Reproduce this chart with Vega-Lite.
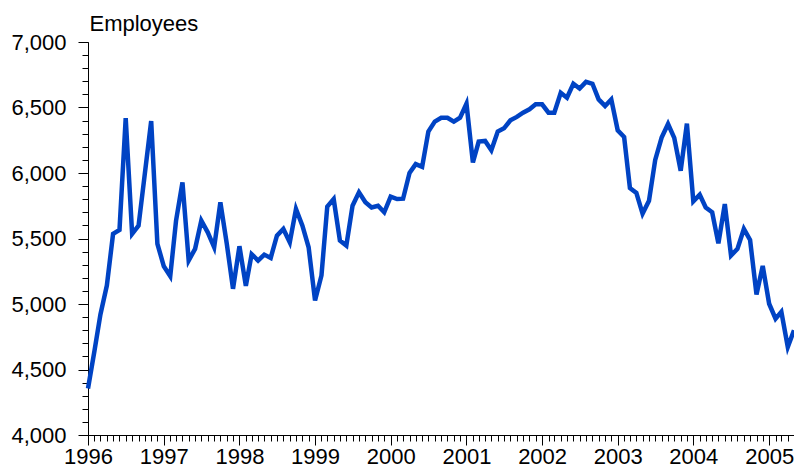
{
  "$schema": "https://vega.github.io/schema/vega-lite/v6.json",
  "width": 706,
  "height": 393,
  "autosize": {"type": "none"},
  "padding": {"left": 88, "top": 42, "right": 0, "bottom": 39},
  "background": "white",
  "config": {
    "view": {"stroke": null},
    "font": "Liberation Sans",
    "axis": {
      "domainColor": "#000000",
      "tickColor": "#000000",
      "labelColor": "#000000",
      "titleColor": "#000000",
      "grid": false,
      "domainWidth": 1,
      "tickWidth": 1
    }
  },
  "data": {
    "values": [
      {"date": "1996-01-01", "employees": 4355},
      {"date": "1996-02-01", "employees": 4640},
      {"date": "1996-03-01", "employees": 4920},
      {"date": "1996-04-01", "employees": 5141},
      {"date": "1996-05-01", "employees": 5535},
      {"date": "1996-06-01", "employees": 5565},
      {"date": "1996-07-01", "employees": 6418},
      {"date": "1996-08-01", "employees": 5535},
      {"date": "1996-09-01", "employees": 5598},
      {"date": "1996-10-01", "employees": 5990},
      {"date": "1996-11-01", "employees": 6397},
      {"date": "1996-12-01", "employees": 5459},
      {"date": "1997-01-01", "employees": 5288},
      {"date": "1997-02-01", "employees": 5212},
      {"date": "1997-03-01", "employees": 5636},
      {"date": "1997-04-01", "employees": 5928},
      {"date": "1997-05-01", "employees": 5332},
      {"date": "1997-06-01", "employees": 5421},
      {"date": "1997-07-01", "employees": 5636},
      {"date": "1997-08-01", "employees": 5547},
      {"date": "1997-09-01", "employees": 5433},
      {"date": "1997-10-01", "employees": 5776},
      {"date": "1997-11-01", "employees": 5459},
      {"date": "1997-12-01", "employees": 5116},
      {"date": "1998-01-01", "employees": 5441},
      {"date": "1998-02-01", "employees": 5138},
      {"date": "1998-03-01", "employees": 5380},
      {"date": "1998-04-01", "employees": 5332},
      {"date": "1998-05-01", "employees": 5377},
      {"date": "1998-06-01", "employees": 5352},
      {"date": "1998-07-01", "employees": 5522},
      {"date": "1998-08-01", "employees": 5573},
      {"date": "1998-09-01", "employees": 5471},
      {"date": "1998-10-01", "employees": 5725},
      {"date": "1998-11-01", "employees": 5598},
      {"date": "1998-12-01", "employees": 5433},
      {"date": "1999-01-01", "employees": 5027},
      {"date": "1999-02-01", "employees": 5218},
      {"date": "1999-03-01", "employees": 5743},
      {"date": "1999-04-01", "employees": 5801},
      {"date": "1999-05-01", "employees": 5484},
      {"date": "1999-06-01", "employees": 5446},
      {"date": "1999-07-01", "employees": 5750},
      {"date": "1999-08-01", "employees": 5852},
      {"date": "1999-09-01", "employees": 5776},
      {"date": "1999-10-01", "employees": 5737},
      {"date": "1999-11-01", "employees": 5750},
      {"date": "1999-12-01", "employees": 5700},
      {"date": "2000-01-01", "employees": 5819},
      {"date": "2000-02-01", "employees": 5801},
      {"date": "2000-03-01", "employees": 5804},
      {"date": "2000-04-01", "employees": 6000},
      {"date": "2000-05-01", "employees": 6068},
      {"date": "2000-06-01", "employees": 6047},
      {"date": "2000-07-01", "employees": 6316},
      {"date": "2000-08-01", "employees": 6392},
      {"date": "2000-09-01", "employees": 6422},
      {"date": "2000-10-01", "employees": 6422},
      {"date": "2000-11-01", "employees": 6392},
      {"date": "2000-12-01", "employees": 6422},
      {"date": "2001-01-01", "employees": 6529},
      {"date": "2001-02-01", "employees": 6080},
      {"date": "2001-03-01", "employees": 6240},
      {"date": "2001-04-01", "employees": 6245},
      {"date": "2001-05-01", "employees": 6174},
      {"date": "2001-06-01", "employees": 6316},
      {"date": "2001-07-01", "employees": 6341},
      {"date": "2001-08-01", "employees": 6402},
      {"date": "2001-09-01", "employees": 6428},
      {"date": "2001-10-01", "employees": 6460},
      {"date": "2001-11-01", "employees": 6486},
      {"date": "2001-12-01", "employees": 6524},
      {"date": "2002-01-01", "employees": 6524},
      {"date": "2002-02-01", "employees": 6460},
      {"date": "2002-03-01", "employees": 6460},
      {"date": "2002-04-01", "employees": 6612},
      {"date": "2002-05-01", "employees": 6574},
      {"date": "2002-06-01", "employees": 6681},
      {"date": "2002-07-01", "employees": 6645},
      {"date": "2002-08-01", "employees": 6696},
      {"date": "2002-09-01", "employees": 6681},
      {"date": "2002-10-01", "employees": 6562},
      {"date": "2002-11-01", "employees": 6512},
      {"date": "2002-12-01", "employees": 6562},
      {"date": "2003-01-01", "employees": 6326},
      {"date": "2003-02-01", "employees": 6275},
      {"date": "2003-03-01", "employees": 5885},
      {"date": "2003-04-01", "employees": 5848},
      {"date": "2003-05-01", "employees": 5690},
      {"date": "2003-06-01", "employees": 5788},
      {"date": "2003-07-01", "employees": 6100},
      {"date": "2003-08-01", "employees": 6270},
      {"date": "2003-09-01", "employees": 6374},
      {"date": "2003-10-01", "employees": 6268},
      {"date": "2003-11-01", "employees": 6017},
      {"date": "2003-12-01", "employees": 6377},
      {"date": "2004-01-01", "employees": 5783},
      {"date": "2004-02-01", "employees": 5834},
      {"date": "2004-03-01", "employees": 5737},
      {"date": "2004-04-01", "employees": 5700},
      {"date": "2004-05-01", "employees": 5463},
      {"date": "2004-06-01", "employees": 5763},
      {"date": "2004-07-01", "employees": 5370},
      {"date": "2004-08-01", "employees": 5421},
      {"date": "2004-09-01", "employees": 5573},
      {"date": "2004-10-01", "employees": 5489},
      {"date": "2004-11-01", "employees": 5073},
      {"date": "2004-12-01", "employees": 5291},
      {"date": "2005-01-01", "employees": 5002},
      {"date": "2005-02-01", "employees": 4888},
      {"date": "2005-03-01", "employees": 4940},
      {"date": "2005-04-01", "employees": 4672},
      {"date": "2005-05-01", "employees": 4800}
    ]
  },
  "layer": [
    {
      "mark": {"type": "line", "opacity": 0},
      "encoding": {
        "x": {
          "field": "date",
          "type": "temporal",
          "scale": {
            "type": "utc",
            "domain": [
              {"year": 1996, "month": 1, "date": 1, "utc": true},
              {"year": 2005, "month": 5, "date": 1, "utc": true}
            ],
            "nice": false
          },
          "axis": {
            "orient": "bottom",
            "tickCount": {"interval": "month", "step": 1},
            "labels": false,
            "domain": false,
            "tickSize": 6,
            "title": null
          }
        },
        "y": {
          "field": "employees",
          "type": "quantitative",
          "scale": {"domain": [4000, 7000], "nice": false, "zero": false},
          "axis": {
            "orient": "left",
            "values": [4000, 4100, 4200, 4300, 4400, 4500, 4600, 4700, 4800, 4900, 5000, 5100, 5200, 5300, 5400, 5500, 5600, 5700, 5800, 5900, 6000, 6100, 6200, 6300, 6400, 6500, 6600, 6700, 6800, 6900, 7000],
            "labels": false,
            "domain": false,
            "tickSize": 6,
            "title": null
          }
        }
      }
    },
    {
      "mark": {"type": "line", "color": "#0043c4", "strokeWidth": 4.5},
      "encoding": {
        "x": {
          "field": "date",
          "type": "temporal",
          "axis": {
            "orient": "bottom",
            "tickCount": {"interval": "year", "step": 1},
            "format": "%Y",
            "labelFontSize": 22,
            "labelPadding": 1,
            "labelFlush": false,
            "labelOverlap": false,
            "tickSize": 10,
            "title": null
          }
        },
        "y": {
          "field": "employees",
          "type": "quantitative",
          "axis": {
            "orient": "left",
            "values": [4000, 4500, 5000, 5500, 6000, 6500, 7000],
            "format": ",d",
            "labelFontSize": 22,
            "labelPadding": 12,
            "tickSize": 10,
            "title": "Employees",
            "titleAngle": 0,
            "titleAlign": "left",
            "titleBaseline": "alphabetic",
            "titleX": 1,
            "titleY": -12,
            "titleFontSize": 22,
            "titleFontWeight": "normal"
          }
        }
      }
    }
  ],
  "resolve": {"axis": {"x": "independent", "y": "independent"}}
}
